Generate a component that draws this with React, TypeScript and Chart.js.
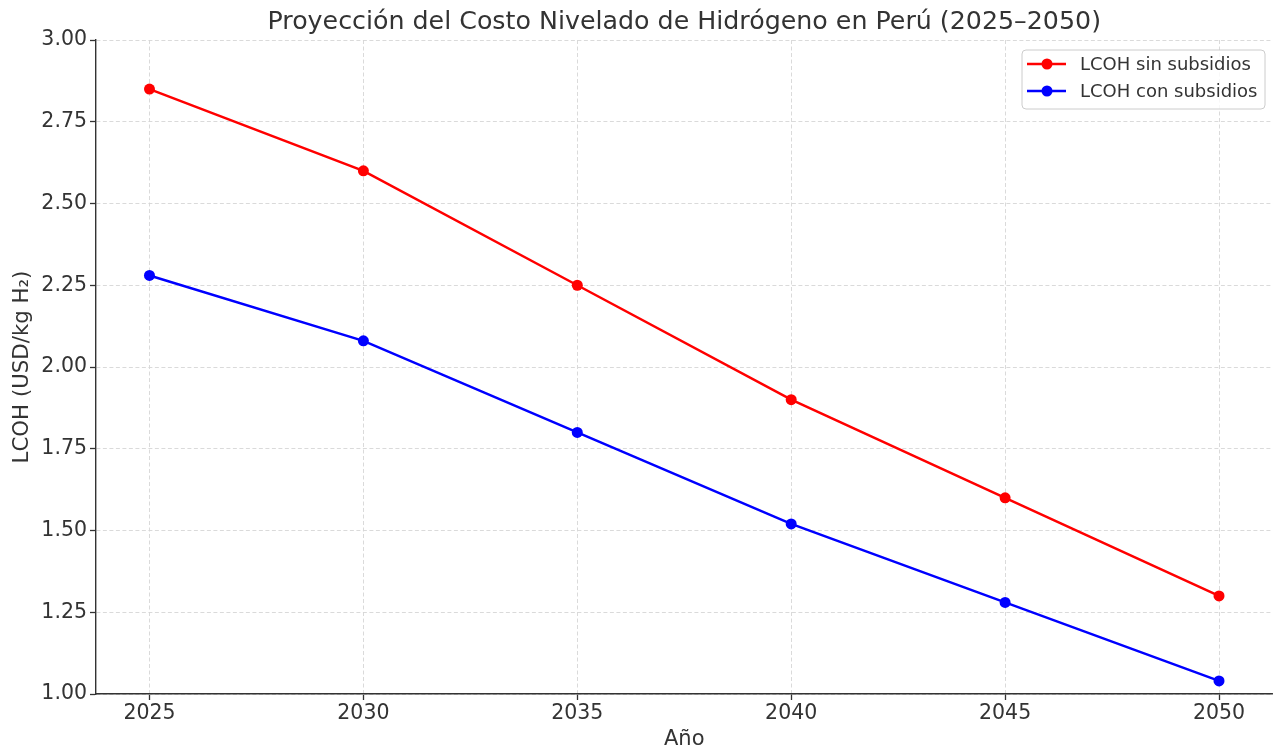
import React, { useEffect, useRef } from "react";
import { Chart, registerables } from "chart.js";

Chart.register(...registerables);

const years = [2025, 2030, 2035, 2040, 2045, 2050];
const lcohSinSubsidios = [2.85, 2.6, 2.25, 1.9, 1.6, 1.3];
const lcohConSubsidios = [2.28, 2.08, 1.8, 1.52, 1.28, 1.04];
const yTicks = [1.0, 1.25, 1.5, 1.75, 2.0, 2.25, 2.5, 2.75, 3.0];
const seriesLabels = ["LCOH sin subsidios", "LCOH con subsidios"];
const seriesColors = ["#ff0000", "#0000ff"];
const chartTitle = "Proyección del Costo Nivelado de Hidrógeno en Perú (2025–2050)";
const xTitle = "Año";
const yTitle = "LCOH (USD/kg H₂)";

const FONT = "'DejaVu Sans', sans-serif";
const TEXT = "#333333";

export default function App() {
  const ref = useRef<HTMLCanvasElement | null>(null);

  useEffect(() => {
    if (!ref.current) return;
    const overlay = {
      id: "overlay",
      afterDraw(chart: any) {
        const ctx = chart.ctx;
        const area = chart.chartArea;
        ctx.save();
        // title
        ctx.fillStyle = TEXT;
        ctx.font = `25.3px ${FONT}`;
        ctx.textAlign = "center";
        ctx.textBaseline = "alphabetic";
        ctx.fillText(chartTitle, (area.left + area.right) / 2, 29);
        // legend
        const bx = 1022, by = 50, bw = 243, bh = 59, r = 4;
        ctx.beginPath();
        ctx.moveTo(bx + r, by);
        ctx.lineTo(bx + bw - r, by);
        ctx.quadraticCurveTo(bx + bw, by, bx + bw, by + r);
        ctx.lineTo(bx + bw, by + bh - r);
        ctx.quadraticCurveTo(bx + bw, by + bh, bx + bw - r, by + bh);
        ctx.lineTo(bx + r, by + bh);
        ctx.quadraticCurveTo(bx, by + bh, bx, by + bh - r);
        ctx.lineTo(bx, by + r);
        ctx.quadraticCurveTo(bx, by, bx + r, by);
        ctx.closePath();
        ctx.fillStyle = "rgba(255,255,255,0.8)";
        ctx.fill();
        ctx.strokeStyle = "#cccccc";
        ctx.lineWidth = 1;
        ctx.stroke();
        const rows = [64, 91];
        seriesLabels.forEach((lab, i) => {
          const y = rows[i];
          ctx.strokeStyle = seriesColors[i];
          ctx.lineWidth = 2.5;
          ctx.beginPath();
          ctx.moveTo(1027, y);
          ctx.lineTo(1066, y);
          ctx.stroke();
          ctx.fillStyle = seriesColors[i];
          ctx.beginPath();
          ctx.arc(1047, y, 5.5, 0, Math.PI * 2);
          ctx.fill();
          ctx.fillStyle = TEXT;
          ctx.font = `18px ${FONT}`;
          ctx.textAlign = "left";
          ctx.textBaseline = "middle";
          ctx.fillText(lab, 1080, y + 1);
        });
        ctx.restore();
      },
    };

    const gridOpts = {
      color: "#d6d6d6",
      lineWidth: 0.9,
      tickColor: TEXT,
      tickBorderDash: [],
      tickWidth: 1.3,
      tickLength: 6,
    };

    const chart = new Chart(ref.current, {
      type: "line",
      data: {
        datasets: [
          {
            label: seriesLabels[0],
            data: years.map((x, i) => ({ x, y: lcohSinSubsidios[i] })),
            borderColor: seriesColors[0],
            backgroundColor: seriesColors[0],
            borderWidth: 2.5,
            pointRadius: 5.5,
            pointBorderWidth: 0,
            tension: 0,
          },
          {
            label: seriesLabels[1],
            data: years.map((x, i) => ({ x, y: lcohConSubsidios[i] })),
            borderColor: seriesColors[1],
            backgroundColor: seriesColors[1],
            borderWidth: 2.5,
            pointRadius: 5.5,
            pointBorderWidth: 0,
            tension: 0,
          },
        ],
      },
      options: {
        responsive: false,
        animation: false,
        devicePixelRatio: 1,
        layout: { padding: { top: 40, right: 5, left: 0, bottom: 0 } },
        plugins: {
          legend: { display: false },
          title: { display: false },
          tooltip: { enabled: false },
        },
        scales: {
          x: {
            type: "linear",
            min: 2023.75,
            max: 2051.25,
            afterBuildTicks: (s: any) => {
              s.ticks = years.map((v) => ({ value: v }));
            },
            afterFit: (s: any) => {
              s.height = 57;
            },
            ticks: {
              color: TEXT,
              font: { family: FONT, size: 20.5 },
              padding: 1,
              maxRotation: 0,
              callback: (v: any) => String(v),
            },
            grid: gridOpts,
            border: { display: true, color: TEXT, width: 1.4, dash: [4, 2.5] },
            title: {
              display: true,
              text: xTitle,
              color: TEXT,
              font: { family: FONT, size: 21 },
              padding: { top: 0, bottom: -1 },
            },
          },
          y: {
            type: "linear",
            min: 1.0,
            max: 3.0,
            afterBuildTicks: (s: any) => {
              s.ticks = yTicks.map((v) => ({ value: v }));
            },
            afterFit: (s: any) => {
              s.width = 96;
            },
            ticks: {
              color: TEXT,
              font: { family: FONT, size: 20.5 },
              padding: 3,
              callback: (v: any) => Number(v).toFixed(2),
            },
            grid: gridOpts,
            border: { display: true, color: TEXT, width: 1.4, dash: [4, 2.5] },
            title: {
              display: true,
              text: yTitle,
              color: TEXT,
              font: { family: FONT, size: 21.3 },
              padding: { top: 10, bottom: 0 },
            },
          },
        },
      },
      plugins: [overlay],
    } as any);
    return () => chart.destroy();
  }, []);

  return (
    <div style={{ position: "fixed", left: 0, top: 0, width: 1278, height: 751, background: "#fff" }}>
      <canvas ref={ref} width={1278} height={751} style={{ width: 1278, height: 751 }} />
    </div>
  );
}
